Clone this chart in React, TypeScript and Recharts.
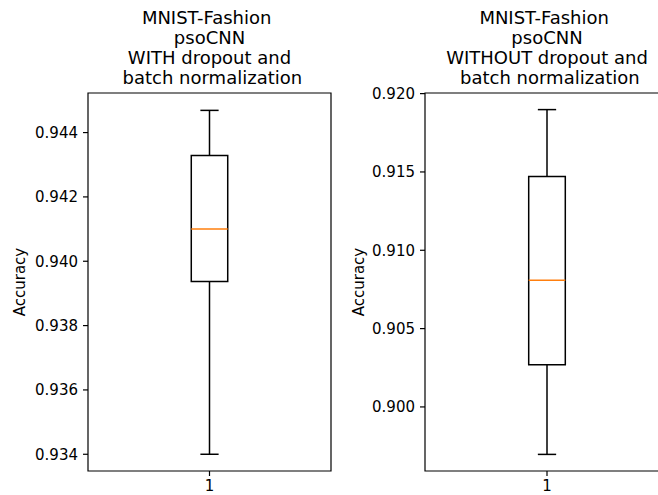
import {
  ComposedChart,
  XAxis,
  YAxis,
  ReferenceArea,
  ReferenceLine,
} from "recharts";

// box statistics per panel: [min whisker, q1, median, q3, max whisker]
const categories = [1];
const withDropoutBox = [0.934, 0.93937, 0.941, 0.94329, 0.94469];
const withoutDropoutBox = [0.89697, 0.90269, 0.90808, 0.91471, 0.91898];

const withDropoutTicks = [0.934, 0.936, 0.938, 0.94, 0.942, 0.944];
const withoutDropoutTicks = [0.9, 0.905, 0.91, 0.915, 0.92];

const withDropoutRange = [0.93348, 0.94523];
const withoutDropoutRange = [0.89591, 0.92004];

const withDropoutTitle = "MNIST-Fashion \n psoCNN \n WITH dropout and \n batch normalization";
const withoutDropoutTitle = "MNIST-Fashion \n psoCNN \n WITHOUT dropout and \n batch normalization";

const FONT = "'DejaVu Sans', sans-serif";
const HALF_BOX = 0.075;
const HALF_CAP = 0.0375;

type PanelProps = {
  left: number;
  marginLeft: number;
  marginRight: number;
  box: number[];
  ticks: number[];
  range: number[];
};

function BoxPanel({ left, marginLeft, marginRight, box, ticks, range }: PanelProps) {
  const [lo, q1, med, q3, hi] = box;
  const x = categories[0];
  const data = [{ x, lo, q1, med, q3, hi }];
  const lineProps = { stroke: "#000", strokeWidth: 1.5, ifOverflow: "visible" as const };
  return (
    <div style={{ position: "absolute", left, top: 0 }}>
      <ComposedChart
        width={340}
        height={495}
        data={data}
        margin={{ top: 93, right: marginRight, bottom: 0, left: marginLeft }}
      >
        <XAxis
          dataKey="x"
          type="number"
          domain={[0.5, 1.5]}
          ticks={categories}
          allowDataOverflow
          height={24}
          axisLine={false}
          tickSize={5}
          tickMargin={4}
          tickLine={{ stroke: "#000", strokeWidth: 1.2 }}
          tick={{ fill: "#000", fontSize: 15, fontFamily: FONT }}
        />
        <YAxis
          type="number"
          domain={range}
          ticks={ticks}
          allowDataOverflow
          width={60}
          axisLine={false}
          tickSize={5}
          tickMargin={5}
          tickFormatter={(v: number) => v.toFixed(3)}
          tickLine={{ stroke: "#000", strokeWidth: 1.2 }}
          tick={{ fill: "#000", fontSize: 15, fontFamily: FONT }}
        />
        <ReferenceArea
          x1={x - HALF_BOX}
          x2={x + HALF_BOX}
          y1={q1}
          y2={q3}
          fill="none"
          fillOpacity={0}
          stroke="#000"
          strokeWidth={1.5}
          ifOverflow="visible"
        />
        <ReferenceLine segment={[{ x, y: q3 }, { x, y: hi }]} {...lineProps} />
        <ReferenceLine segment={[{ x, y: lo }, { x, y: q1 }]} {...lineProps} />
        <ReferenceLine segment={[{ x: x - HALF_CAP, y: hi }, { x: x + HALF_CAP, y: hi }]} {...lineProps} />
        <ReferenceLine segment={[{ x: x - HALF_CAP, y: lo }, { x: x + HALF_CAP, y: lo }]} {...lineProps} />
        <ReferenceLine
          segment={[{ x: x - HALF_BOX, y: med }, { x: x + HALF_BOX, y: med }]}
          stroke="#ff7f0e"
          strokeWidth={1.5}
          ifOverflow="visible"
        />
        <ReferenceArea
          x1={0.5}
          x2={1.5}
          y1={range[0]}
          y2={range[1]}
          fill="none"
          fillOpacity={0}
          stroke="#000"
          strokeWidth={1.2}
          ifOverflow="visible"
        />
      </ComposedChart>
    </div>
  );
}

function Title({ center, text }: { center: number; text: string }) {
  return (
    <div
      style={{
        position: "absolute",
        left: center - 170,
        top: 7.6,
        width: 340,
        textAlign: "center",
        whiteSpace: "pre",
        fontFamily: FONT,
        fontSize: 18,
        lineHeight: "20.3px",
        color: "#000",
      }}
    >
      {text}
    </div>
  );
}

function YLabel({ cx }: { cx: number }) {
  return (
    <div
      style={{
        position: "absolute",
        left: cx - 50,
        top: 282 - 10,
        width: 100,
        height: 20,
        lineHeight: "20px",
        textAlign: "center",
        transform: "rotate(-90deg)",
        fontFamily: FONT,
        fontSize: 15,
        color: "#000",
      }}
    >
      Accuracy
    </div>
  );
}

export default function App() {
  return (
    <div
      style={{
        position: "absolute",
        left: 0,
        top: 0,
        width: 658,
        height: 495,
        overflow: "hidden",
        background: "#fff",
      }}
    >
      <BoxPanel
        left={0}
        marginLeft={28}
        marginRight={9}
        box={withDropoutBox}
        ticks={withDropoutTicks}
        range={withDropoutRange}
      />
      <BoxPanel
        left={340}
        marginLeft={25}
        marginRight={11}
        box={withoutDropoutBox}
        ticks={withoutDropoutTicks}
        range={withoutDropoutRange}
      />
      <Title center={209.5} text={withDropoutTitle} />
      <Title center={547} text={withoutDropoutTitle} />
      <YLabel cx={20} />
      <YLabel cx={359} />
    </div>
  );
}
